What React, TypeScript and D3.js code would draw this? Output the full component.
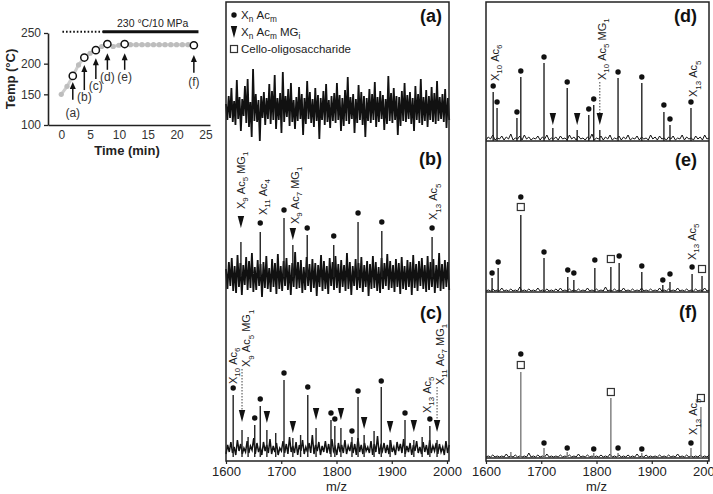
import React, { useEffect, useRef } from 'react';
import * as d3 from 'd3';

// Temperature profile of the run (left inset)
const timeMin = [0, 1, 2, 3, 4, 5, 6, 7, 8, 9, 10, 11, 12, 13, 14, 15, 16, 17, 18, 19, 20, 21, 22, 23];
const tempC = [150, 163, 180, 198, 210, 217, 222, 228, 232, 228, 230, 232, 231, 231, 231, 231, 231, 231, 231, 231, 231, 231, 231, 230];
const sampleTimes = [2, 4, 6, 8, 11, 23];
const sampleTemps = [180, 210, 222, 232, 232, 230];
const sampleNames = ['(a)', '(b)', '(c)', '(d)', '(e)', '(f)'];
const sampleNameTemps = [120, 146, 164, 178, 178, 170];
const arrowFrom = [141, 157, 175, 190, 190, 185];
const arrowTo = [170, 198, 209, 217, 217, 214];
const tempTicks = [100, 150, 200, 250];
const timeTicks = [0, 5, 10, 15, 20, 25];
const rampStart = 0.2;
const holdStart = 7.2;
const holdEnd = 23.8;
const holdLevel = 252;
const holdText = '230 °C/10 MPa';

// m/z axis
const mzTicks = [1600, 1700, 1800, 1900, 2000];

// baseline noise of each spectrum (relative intensity, evenly spaced over the m/z range)
const noiseA = [
  6, -10, 14, -8, 22, -12, 9, -15, 30, -9, 13, -21, 11, -6, 24, -13, 31, -17, 8, -27,
  41, -11, 16, -12, 10, -31, 14, -8, 18, -15, 12, -9, 26, -14, 19, -10, 35, -19, 12, -10,
  17, -23, 38, -12, 14, -7, 21, -16, 27, -12, 10, -19, 13, -11, 23, -9, 16, -25, 12, -14,
  29, -9, 18, -13, 11, -17, 22, -11, 15, -29, 12, -10, 19, -15, 26, -12, 10, -18, 14, -11,
  17, -13, 27, -10, 15, -21, 12, -16, 20, -11, 33, -14, 13, -9, 16, -23, 11, -13, 25, -10,
  18, -15, 14, -27, 12, -11, 21, -13, 16, -10, 28, -17, 13, -12, 19, -9, 15, -20, 11, -14,
  34, -11, 17, -13, 22, -10, 14, -25, 13, -16, 19, -11, 27, -12, 15, -9, 18, -14, 12, -21,
  24, -10, 16, -13, 31, -15, 13, -11, 20, -17, 14, -10, 23, -12, 17, -14, 29, -11, 13, -9,
  16, -12, 21, -18, 12, -10,
];
const noiseB = [
  8, -12, 15, -9, 19, -14, 11, -16, 22, -10, 14, -18, 12, -8, 20, -13, 16, -11, 24, -15,
  10, -13, 17, -9, 13, -20, 15, -11, 21, -12, 9, -15, 18, -10, 14, -17, 23, -12, 11, -14,
  16, -9, 19, -13, 12, -18, 14, -10, 25, -12, 15, -11, 17, -16, 10, -13, 20, -9, 13, -15,
  18, -11, 14, -19, 12, -10, 22, -14, 16, -12, 11, -17, 19, -9, 15, -13, 21, -11, 13, -16,
  17, -10, 12, -14, 24, -12, 15, -18, 11, -9, 18, -13, 14, -11, 20, -15, 12, -10, 16, -19,
  13, -12, 21, -11, 15, -14, 10, -16, 19, -12, 14, -9, 23, -13, 16, -11, 12, -15, 18, -10,
  14, -17, 20, -12, 11, -13, 17, -10, 15, -18, 22, -11, 13, -14, 16, -9, 19, -12, 12, -15,
  21, -13, 15, -10, 18, -16, 12, -11, 24, -14, 13, -12, 17, -10, 15, -13,
];
const noiseC = [
  3, 12, 5, 15, 4, 10, 2, 17, 6, 13, 3, 9, 5, 16, 4, 11, 7, 19, 3, 14,
  5, 10, 2, 15, 6, 12, 4, 18, 3, 11, 5, 14, 2, 9, 6, 16, 4, 13, 3, 20,
  5, 11, 4, 15, 2, 12, 6, 17, 3, 10, 5, 14, 4, 22, 3, 12, 6, 15, 2, 11,
  5, 16, 4, 13, 3, 18, 6, 10, 2, 14, 5, 12, 4, 17, 3, 11, 6, 15, 4, 13,
  2, 19, 5, 12, 3, 14, 6, 10, 4, 16, 2, 13, 5, 21, 3, 11, 6, 14, 4, 12,
  3, 17, 5, 10, 2, 15, 6, 13, 4, 18, 3, 11, 5, 14, 2, 12, 6, 16, 4, 10,
  3, 15, 5, 12, 2, 17, 4, 11, 6, 14, 3, 13, 5, 10, 2, 16, 4, 12,
];
const noiseD = [
  1, 4, 2, 6, 1, 3, 2, 5, 1, 4, 2, 7, 1, 3, 2, 5, 1, 6, 2, 4,
  1, 3, 2, 5, 1, 4, 2, 6, 1, 3, 2, 4, 1, 5, 2, 3, 1, 6, 2, 4,
  1, 5, 2, 3, 1, 4, 2, 7, 1, 3, 2, 5, 1, 4, 2, 6, 1, 3, 2, 5,
  1, 4, 2, 6, 1, 3, 2, 5, 1, 4, 2, 3, 1, 6, 2, 4, 1, 5, 2, 3,
  1, 4, 2, 5, 1, 3, 2, 6, 1, 4, 2, 3, 1, 5, 2, 4, 1, 6, 2, 3,
];
const noiseE = [
  1, 2, 1, 3, 1, 2, 1, 4, 1, 2, 1, 3, 1, 2, 1, 5, 1, 2, 1, 3,
  1, 2, 1, 4, 1, 2, 1, 3, 1, 2, 1, 3, 1, 4, 1, 2, 1, 3, 1, 2,
  1, 3, 1, 2, 1, 4, 1, 2, 1, 3, 1, 2, 1, 5, 1, 2, 1, 3, 1, 2,
  1, 4, 1, 2, 1, 3, 1, 2, 1, 4, 1, 2, 1, 3, 1, 2, 1, 4, 1, 2,
  1, 3, 1, 2, 1, 4, 1, 2, 1, 3, 1, 2, 1, 3, 1, 2, 1, 4, 1, 2,
];
const noiseF = [
  1, 2, 1, 3, 1, 2, 1, 2, 1, 4, 1, 2, 1, 3, 1, 2, 1, 2, 1, 5,
  1, 2, 1, 3, 1, 2, 1, 4, 1, 2, 1, 2, 1, 3, 1, 2, 1, 3, 1, 2,
  1, 4, 1, 2, 1, 3, 1, 2, 1, 2, 1, 3, 1, 2, 1, 4, 1, 2, 1, 3,
  1, 2, 1, 3, 1, 2, 1, 4, 1, 2, 1, 3, 1, 2, 1, 2, 1, 3, 1, 2,
  1, 3, 1, 2, 1, 4, 1, 2, 1, 3, 1, 2, 1, 2, 1, 3, 1, 2, 1, 3,
];

// peaks: m/z, height, marker type, marker height (mk2 = dot above a square)
const peaksB = [
  { mz: 1627, h: 35, mark: 'tri', mk: 55 },
  { mz: 1662, h: 45, mark: 'dot', mk: 54 },
  { mz: 1705, h: 59, mark: 'dot', mk: 67 },
  { mz: 1721, h: 32, mark: 'tri', mk: 43 },
  { mz: 1747, h: 42, mark: 'dot', mk: 49 },
  { mz: 1795, h: 32, mark: 'dot', mk: 41 },
  { mz: 1839, h: 55, mark: 'dot', mk: 64 },
  { mz: 1882, h: 46, mark: 'dot', mk: 55 },
  { mz: 1973, h: 40, mark: 'dot', mk: 49 },
];
const peaksC = [
  { mz: 1613, h: 62, mark: 'dot', mk: 69 },
  { mz: 1629, h: 27, mark: 'tri', mk: 41 },
  { mz: 1640, h: 20 },
  { mz: 1652, h: 32, mark: 'dot', mk: 39 },
  { mz: 1662, h: 51, mark: 'dot', mk: 58 },
  { mz: 1674, h: 27, mark: 'tri', mk: 40 },
  { mz: 1690, h: 24 },
  { mz: 1705, h: 77, mark: 'dot', mk: 84 },
  { mz: 1721, h: 19, mark: 'tri', mk: 30 },
  { mz: 1735, h: 22 },
  { mz: 1748, h: 62, mark: 'dot', mk: 70 },
  { mz: 1763, h: 29, mark: 'tri', mk: 43 },
  { mz: 1790, h: 37, mark: 'dot', mk: 44 },
  { mz: 1797, h: 31, mark: 'dot', mk: 38 },
  { mz: 1808, h: 29, mark: 'tri', mk: 43 },
  { mz: 1828, h: 20, mark: 'dot', mk: 26 },
  { mz: 1839, h: 60, mark: 'dot', mk: 66 },
  { mz: 1850, h: 22, mark: 'tri', mk: 34 },
  { mz: 1868, h: 26 },
  { mz: 1881, h: 70, mark: 'dot', mk: 76 },
  { mz: 1897, h: 17, mark: 'tri', mk: 30 },
  { mz: 1924, h: 37, mark: 'dot', mk: 44 },
  { mz: 1940, h: 17, mark: 'tri', mk: 31 },
  { mz: 1955, h: 20 },
  { mz: 1969, h: 31, mark: 'dot', mk: 38 },
  { mz: 1982, h: 17, mark: 'tri', mk: 31 },
];
const peaksD = [
  { mz: 1613, h: 49, mark: 'dot', mk: 55 },
  { mz: 1620, h: 33, mark: 'dot', mk: 39 },
  { mz: 1656, h: 23, mark: 'dot', mk: 29 },
  { mz: 1663, h: 64, mark: 'dot', mk: 70 },
  { mz: 1705, h: 78, mark: 'dot', mk: 84 },
  { mz: 1721, h: 13, mark: 'tri', mk: 22 },
  { mz: 1747, h: 53, mark: 'dot', mk: 59 },
  { mz: 1765, h: 11, mark: 'tri', mk: 22 },
  { mz: 1786, h: 26, mark: 'dot', mk: 32 },
  { mz: 1795, h: 36, mark: 'dot', mk: 42 },
  { mz: 1806, h: 11, mark: 'tri', mk: 22 },
  { mz: 1839, h: 63, mark: 'dot', mk: 69 },
  { mz: 1882, h: 58, mark: 'dot', mk: 64 },
  { mz: 1922, h: 29, mark: 'dot', mk: 36 },
  { mz: 1933, h: 16, mark: 'dot', mk: 22 },
  { mz: 1971, h: 33, mark: 'dot', mk: 39 },
];
const peaksE = [
  { mz: 1611, h: 14, mark: 'dot', mk: 19 },
  { mz: 1622, h: 24, mark: 'dot', mk: 30 },
  { mz: 1663, h: 77, mark: 'sqdot', mk: 85, mk2: 95 },
  { mz: 1705, h: 34, mark: 'dot', mk: 40 },
  { mz: 1748, h: 15, mark: 'dot', mk: 22 },
  { mz: 1759, h: 12, mark: 'dot', mk: 19 },
  { mz: 1797, h: 24, mark: 'dot', mk: 32 },
  { mz: 1826, h: 25, mark: 'sq', mk: 33 },
  { mz: 1841, h: 29, mark: 'dot', mk: 36 },
  { mz: 1882, h: 20, mark: 'dot', mk: 26 },
  { mz: 1920, h: 7, mark: 'dot', mk: 12 },
  { mz: 1933, h: 10, mark: 'dot', mk: 18 },
  { mz: 1973, h: 18, mark: 'dot', mk: 25 },
  { mz: 1991, h: 16, mark: 'sq', mk: 23 },
];
const peaksF = [
  { mz: 1645, h: 6 },
  { mz: 1663, h: 86, mark: 'sqdot', mk: 93, mk2: 104 },
  { mz: 1705, h: 10, mark: 'dot', mk: 15 },
  { mz: 1747, h: 6, mark: 'dot', mk: 10 },
  { mz: 1795, h: 5, mark: 'dot', mk: 9 },
  { mz: 1826, h: 60, mark: 'sq', mk: 66 },
  { mz: 1839, h: 5, mark: 'dot', mk: 10 },
  { mz: 1882, h: 5, mark: 'dot', mk: 9 },
  { mz: 1971, h: 10, mark: 'dot', mk: 15 },
  { mz: 1989, h: 51, mark: 'sq', mk: 60 },
];

// peak assignments (underscore = subscript), lead = dotted leader to the peak
const labelsB = [
  { mz: 1627, h: 68, text: 'X_9 Ac_5 MG_1' },
  { mz: 1667, h: 62, text: 'X_11 Ac_4' },
  { mz: 1725, h: 53, text: 'X_9 Ac_7 MG_1' },
  { mz: 1975, h: 57, text: 'X_13 Ac_5' },
];
const labelsC = [
  { mz: 1613, h: 73, text: 'X_10 Ac_6' },
  { mz: 1637, h: 90, text: 'X_9 Ac_5 MG_1', lead: { mz: 1629, from: 88, to: 47 } },
  { mz: 1964, h: 44, text: 'X_13 Ac_5' },
  { mz: 1987, h: 72, text: 'X_11 Ac_7 MG_1', lead: { mz: 1982, from: 70, to: 37 } },
];
const labelsD = [
  { mz: 1616, h: 60, text: 'X_10 Ac_6' },
  { mz: 1810, h: 61, text: 'X_10 Ac_5 MG_1', lead: { mz: 1806, from: 59, to: 28 } },
  { mz: 1975, h: 44, text: 'X_13 Ac_5' },
];
const labelsE = [{ mz: 1973, h: 32, text: 'X_13 Ac_5' }];
const labelsF = [{ mz: 1975, h: 23, text: 'X_13 Ac_5' }];

const legendItems = [
  { mark: 'dot', text: 'X_n Ac_m' },
  { mark: 'tri', text: 'X_n Ac_m MG_i' },
  { mark: 'sq', text: 'Cello-oligosaccharide' },
];

const FONT = '"Liberation Sans", Arial, Helvetica, sans-serif';
const INK = '#111';

// writes "X_13 Ac_5" style text with subscripts into a text selection
const addFormula = (text, label, size) => {
  let shifted = false;
  label.split(' ').forEach((tok, i) => {
    const [base, sub] = tok.split('_');
    text.append('tspan')
      .attr('dx', i ? size * 0.28 : 0)
      .attr('dy', shifted ? -size * 0.3 : 0)
      .text(base);
    shifted = false;
    if (sub) {
      text.append('tspan').attr('font-size', size * 0.72).attr('dy', size * 0.3).text(sub);
      shifted = true;
    }
  });
};

const addMarker = (g, type, x, y) => {
  if (type === 'dot') {
    g.append('circle').attr('cx', x).attr('cy', y).attr('r', 2.7).attr('fill', INK);
  } else if (type === 'tri') {
    g.append('path').attr('d', `M${x - 3.2},${y - 6}L${x + 3.2},${y - 6}L${x},${y + 6}Z`).attr('fill', INK);
  } else if (type === 'sq') {
    g.append('rect').attr('x', x - 3.5).attr('y', y - 3.5).attr('width', 7).attr('height', 7)
      .attr('fill', '#fff').attr('stroke', '#333').attr('stroke-width', 1.2);
  }
};

const App = () => {
  const svgRef = useRef(null);

  useEffect(() => {
    const svg = d3.select(svgRef.current);
    svg.selectAll('*').remove();
    svg.attr('font-family', FONT);

    // ---------- Temperature inset ----------
    const xT = d3.scaleLinear().domain([-2.3, 25.8]).range([48, 210]);
    const yT = d3.scaleLinear().domain([100, 250]).range([125, 33]);
    const inset = svg.append('g');

    const yAxis = inset.append('g')
      .attr('transform', `translate(${xT.range()[0]},0)`)
      .call(d3.axisLeft(yT).tickValues(tempTicks).tickSize(4).tickSizeOuter(0).tickPadding(3));
    const xAxis = inset.append('g')
      .attr('transform', `translate(0,${yT(100)})`)
      .call(d3.axisBottom(xT).tickValues(timeTicks).tickSize(0).tickSizeOuter(0).tickPadding(5));
    [yAxis, xAxis].forEach((ax) => {
      ax.attr('font-family', FONT).attr('font-size', 12);
      ax.select('.domain').attr('stroke', '#222').attr('stroke-width', 1.6);
      ax.selectAll('.tick line').attr('stroke', '#222').attr('stroke-width', 1.3);
      ax.selectAll('.tick text').attr('fill', '#333');
    });

    inset.append('text')
      .attr('x', 127).attr('y', 155)
      .attr('text-anchor', 'middle').attr('font-size', 13).attr('font-weight', 'bold').attr('fill', '#222')
      .text('Time (min)');
    inset.append('text')
      .attr('transform', `translate(15,${yT(175)}) rotate(-90)`)
      .attr('text-anchor', 'middle').attr('font-size', 13).attr('font-weight', 'bold').attr('fill', '#222')
      .text('Temp (°C)');

    // Pressure / hold bar
    inset.append('line')
      .attr('x1', xT(rampStart)).attr('x2', xT(holdStart)).attr('y1', yT(holdLevel)).attr('y2', yT(holdLevel))
      .attr('stroke', INK).attr('stroke-width', 2).attr('stroke-dasharray', '1.6,2');
    inset.append('line')
      .attr('x1', xT(holdStart)).attr('x2', xT(holdEnd)).attr('y1', yT(holdLevel)).attr('y2', yT(holdLevel))
      .attr('stroke', INK).attr('stroke-width', 3);
    inset.append('text')
      .attr('x', (xT(holdStart) + xT(holdEnd)) / 2 + 2).attr('y', yT(holdLevel) - 5)
      .attr('text-anchor', 'middle').attr('font-size', 10.5).attr('fill', '#222')
      .text(holdText);

    // Temperature curve
    const tData = timeMin.map((t, i) => [t, tempC[i]]);
    inset.append('path')
      .datum(tData)
      .attr('fill', 'none').attr('stroke', '#cdcdcd').attr('stroke-width', 3)
      .attr('d', d3.line().x((d) => xT(d[0])).y((d) => yT(d[1])));
    inset.selectAll('circle.t')
      .data(tData).enter().append('circle')
      .attr('cx', (d) => xT(d[0])).attr('cy', (d) => yT(d[1])).attr('r', 2.6).attr('fill', '#bdbdbd');
    sampleTimes.forEach((t, i) => {
      const x = xT(t);
      inset.append('circle')
        .attr('cx', x).attr('cy', yT(sampleTemps[i])).attr('r', 3.6)
        .attr('fill', '#fff').attr('stroke', INK).attr('stroke-width', 1.5);
      const tip = yT(arrowTo[i]);
      inset.append('line')
        .attr('x1', x).attr('x2', x).attr('y1', yT(arrowFrom[i])).attr('y2', tip + 5)
        .attr('stroke', INK).attr('stroke-width', 1.5);
      inset.append('path').attr('d', `M${x - 3},${tip + 7}L${x + 3},${tip + 7}L${x},${tip}Z`).attr('fill', INK);
      inset.append('text')
        .attr('x', x).attr('y', yT(sampleNameTemps[i])).attr('dy', '0.35em')
        .attr('text-anchor', 'middle').attr('font-size', 12).attr('fill', '#333')
        .text(sampleNames[i]);
    });

    // ---------- Mass spectra ----------
    const xMid = d3.scaleLinear().domain([1600, 2000]).range([226, 447]);
    const xRight = d3.scaleLinear().domain([1600, 2000]).range([486, 707]);

    const panels = [
      { tag: '(a)', x: xMid, base: 110, noise: noiseA, peaks: [], labels: [], tagX: 442, tagY: 22, nw: 1.8 },
      { tag: '(b)', x: xMid, base: 277, noise: noiseB, peaks: peaksB, labels: labelsB, tagX: 442, tagY: 165, nw: 1.8 },
      { tag: '(c)', x: xMid, base: 457, noise: noiseC, peaks: peaksC, labels: labelsC, tagX: 442, tagY: 319, nw: 1.5 },
      { tag: '(d)', x: xRight, base: 141, noise: noiseD, peaks: peaksD, labels: labelsD, tagX: 697, tagY: 22, nw: 1 },
      { tag: '(e)', x: xRight, base: 292, noise: noiseE, peaks: peaksE, labels: labelsE, tagX: 697, tagY: 166, nw: 1 },
      { tag: '(f)', x: xRight, base: 458, noise: noiseF, peaks: peaksF, labels: labelsF, tagX: 697, tagY: 318, nw: 1, peakColor: '#7a7a7a' },
    ];

    panels.forEach((p) => {
      const g = svg.append('g');
      const y = d3.scaleLinear().domain([0, 100]).range([p.base, p.base - 100]);
      const [x0, x1] = p.x.range();
      const nData = p.noise.map((v, i) => [1600 + (i * 404) / (p.noise.length - 1), v]);
      g.append('path')
        .datum(nData)
        .attr('fill', 'none').attr('stroke', INK).attr('stroke-width', p.nw)
        .attr('d', d3.line().x((d) => p.x(d[0])).y((d) => y(d[1])));
      if (p.x === xRight) {
        g.append('line').attr('x1', x0).attr('x2', x1 + 2).attr('y1', y(0)).attr('y2', y(0))
          .attr('stroke', '#222').attr('stroke-width', 1.5);
      }

      p.peaks.forEach((pk) => {
        const x = p.x(pk.mz);
        g.append('line').attr('x1', x).attr('x2', x).attr('y1', y(0)).attr('y2', y(pk.h))
          .attr('stroke', p.peakColor || '#222').attr('stroke-width', 1.4);
        if (pk.mark === 'sqdot') {
          addMarker(g, 'sq', x, y(pk.mk));
          addMarker(g, 'dot', x, y(pk.mk2));
        } else if (pk.mark) {
          addMarker(g, pk.mark, x, y(pk.mk));
        }
      });

      p.labels.forEach((lb) => {
        const t = g.append('text')
          .attr('transform', `translate(${p.x(lb.mz) + 4},${y(lb.h)}) rotate(-90)`)
          .attr('font-size', 11).attr('fill', '#222');
        addFormula(t, lb.text, 11);
        if (lb.lead) {
          g.append('line')
            .attr('x1', p.x(lb.lead.mz)).attr('x2', p.x(lb.lead.mz))
            .attr('y1', y(lb.lead.from)).attr('y2', y(lb.lead.to))
            .attr('stroke', '#444').attr('stroke-width', 1).attr('stroke-dasharray', '1.5,1.5');
        }
      });

      g.append('text')
        .attr('x', p.tagX).attr('y', p.tagY)
        .attr('text-anchor', 'end').attr('font-size', 18).attr('font-weight', 'bold').attr('fill', INK)
        .text(p.tag);
    });

    // Legend in panel (a)
    legendItems.forEach((it, i) => {
      const cy = 15 + i * 17;
      addMarker(svg, it.mark, 234, cy);
      const t = svg.append('text').attr('x', 241).attr('y', cy + 4).attr('font-size', 11.5).attr('fill', '#222');
      addFormula(t, it.text, 11.5);
    });

    // Frames and m/z axes
    [xMid, xRight].forEach((x) => {
      const [x0, x1] = x.range();
      svg.append('rect').attr('x', x0).attr('y', 2).attr('width', x1 + 2 - x0).attr('height', 459)
        .attr('fill', 'none').attr('stroke', '#222').attr('stroke-width', 1.5);
      const ax = svg.append('g')
        .attr('transform', 'translate(0,461)')
        .call(d3.axisBottom(x).tickValues(mzTicks).tickFormat(d3.format('d')).tickSize(3).tickSizeOuter(0).tickPadding(3));
      ax.attr('font-family', FONT).attr('font-size', 13);
      ax.select('.domain').remove();
      ax.selectAll('.tick line').attr('stroke', '#222').attr('stroke-width', 1.2);
      ax.selectAll('.tick text').attr('fill', '#222');
      svg.append('text')
        .attr('x', (x0 + x1) / 2).attr('y', 491)
        .attr('text-anchor', 'middle').attr('font-size', 13).attr('fill', '#222')
        .text('m/z');
    });
  }, []);

  return (
    <svg
      ref={svgRef}
      width={713}
      height={494}
      style={{ position: 'absolute', left: 0, top: 0, background: '#fff' }}
    />
  );
};

export default App;
